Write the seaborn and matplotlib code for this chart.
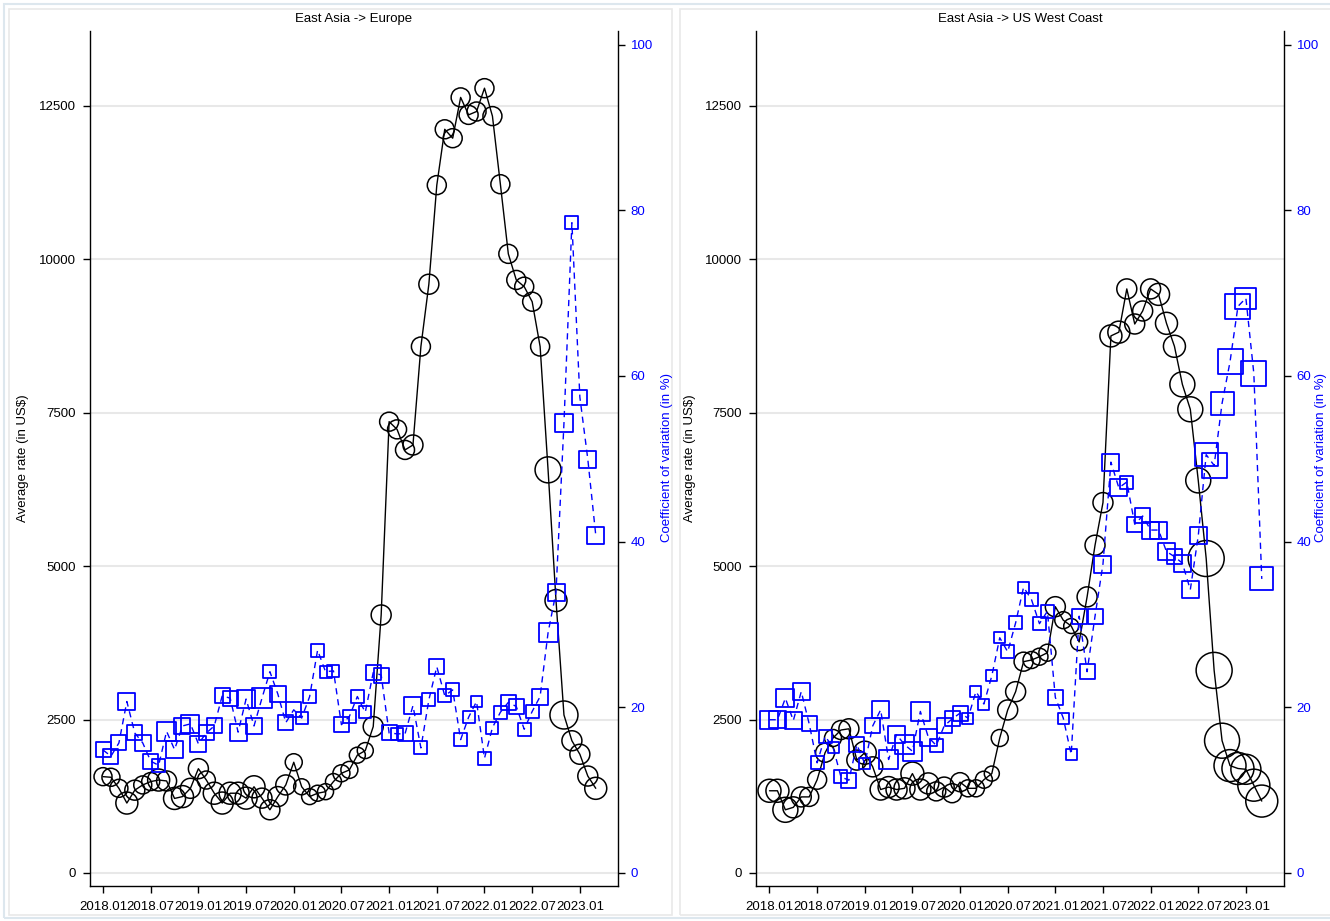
import numpy as np
import pandas as pd
import matplotlib
matplotlib.use("Agg")
import matplotlib.pyplot as plt
from matplotlib.patches import Rectangle
import seaborn as sns

# ---------------- data ----------------
tick_labels = ["2018.01", "2018.07", "2019.01", "2019.07", "2020.01", "2020.07",
               "2021.01", "2021.07", "2022.01", "2022.07", "2023.01"]
months = pd.period_range("2018-01", periods=63, freq="M").strftime("%Y.%m").tolist()

panel_titles = ["East Asia -> Europe", "East Asia -> US West Coast"]

eu_rate = [1570, 1560, 1380, 1140, 1350, 1435, 1490, 1515, 1500, 1215,
           1245, 1380, 1700, 1515, 1300, 1140, 1300, 1300, 1220, 1405,
           1220, 1030, 1245, 1435, 1805, 1405, 1245, 1300, 1325, 1490,
           1625, 1680, 1920, 1995, 2385, 4205, 7355, 7230, 6895, 6975,
           8580, 9595, 11210, 12120, 11975, 12640, 12355, 12410, 12790, 12335,
           11225, 10090, 9665, 9555, 9310, 8580, 6570, 4440, 2575, 2155,
           1935, 1580, 1380]
eu_cv = [14.85, 14.1, 15.7, 20.7, 16.9, 15.7, 13.5, 13.0, 17.1, 14.9,
         17.75, 18.0, 15.6, 16.9, 17.75, 21.4, 21.1, 17.0, 21.0, 17.75,
         21.1, 24.3, 21.6, 18.15, 19.7, 18.7, 21.3, 26.9, 24.3, 24.4,
         17.9, 18.9, 21.3, 19.4, 24.2, 23.9, 16.9, 16.8, 16.8, 20.2,
         15.1, 20.9, 24.9, 21.4, 22.1, 16.1, 18.8, 20.7, 13.85, 17.55,
         19.4, 20.6, 20.1, 17.35, 19.5, 21.3, 29.0, 33.9, 54.3, 78.5,
         57.45, 49.96, 40.8]
# relative weights of the observations (marker size encodes them)
eu_rate_n = [18, 18, 18, 22, 20, 18, 18, 22, 20, 22,
             22, 20, 20, 18, 22, 22, 22, 22, 22, 22,
             20, 20, 20, 20, 17, 16, 16, 16, 16, 16,
             17, 17, 16, 16, 20, 20, 19, 19, 19, 20,
             19, 20, 19, 19, 19, 19, 19, 19, 19, 19,
             19, 19, 19, 19, 19, 19, 26, 22, 28, 20,
             20, 20, 22]
eu_cv_n = [15, 15, 15, 17, 15, 16, 15, 13, 19, 17,
           16, 18, 16, 15, 15, 15, 15, 17, 18, 16,
           20, 13, 16, 15, 15, 12, 13, 13, 12, 12,
           15, 13, 13, 12, 15, 15, 15, 12, 15, 17,
           13, 13, 15, 13, 13, 13, 12, 11, 13, 12,
           13, 15, 15, 13, 13, 16, 19, 17, 18, 13,
           15, 17, 17]

us_rate = [1340, 1340, 1030, 1070, 1240, 1240, 1520, 1960, 2200, 2330,
           2350, 1840, 1960, 1730, 1360, 1400, 1360, 1380, 1620, 1360,
           1460, 1330, 1400, 1300, 1480, 1380, 1380, 1520, 1620, 2200,
           2657, 2955, 3444, 3471, 3525, 3590, 4340, 4120, 4025, 3765,
           4500, 5342, 6036, 8753, 8814, 9519, 8947, 9159, 9519, 9430,
           8958, 8584, 7963, 7557, 6398, 5125, 3302, 2156, 1750, 1703,
           1690, 1431, 1172]
us_cv = [18.5, 18.5, 21.1, 18.4, 21.9, 18.0, 13.3, 16.5, 15.2, 11.6,
         11.2, 15.5, 13.2, 17.75, 19.7, 13.7, 16.7, 15.5, 14.7, 19.5,
         16.4, 15.4, 17.75, 18.6, 19.3, 18.7, 21.9, 20.4, 23.8, 28.4,
         26.7, 30.2, 34.5, 33.0, 30.1, 31.6, 21.2, 18.7, 14.3, 31.0,
         24.3, 31.0, 37.3, 49.6, 46.5, 47.2, 42.1, 43.1, 41.4, 41.4,
         38.8, 38.2, 37.4, 34.2, 40.7, 50.5, 49.2, 56.7, 61.7, 68.4,
         69.4, 60.3, 35.5]
us_rate_n = [23, 23, 25, 21, 20, 19, 19, 19, 17, 19,
             20, 20, 23, 20, 21, 21, 21, 21, 23, 21,
             21, 19, 20, 19, 19, 17, 17, 17, 15, 17,
             20, 20, 19, 17, 17, 17, 20, 17, 15, 17,
             20, 20, 20, 22, 22, 20, 20, 20, 20, 22,
             22, 22, 25, 25, 25, 36, 36, 35, 32, 32,
             30, 32, 32]
us_cv_n = [18, 17, 18, 17, 17, 15, 13, 13, 11, 13,
           15, 15, 11, 15, 17, 19, 17, 19, 19, 19,
           17, 13, 15, 15, 15, 11, 11, 11, 11, 11,
           13, 13, 11, 13, 13, 13, 15, 11, 11, 15,
           15, 15, 17, 17, 17, 13, 15, 15, 17, 17,
           17, 15, 17, 17, 17, 23, 25, 23, 25, 25,
           21, 25, 23]

# ---------------- style ----------------
sns.set_style("white")
plt.rcParams["font.family"] = ["Liberation Sans", "DejaVu Sans"]
FS = 9.5
BLUE = "#0000ff"

W, H = 1330, 921
fig = plt.figure(figsize=(W / 100, H / 100), dpi=100)
fig.patch.set_facecolor("white")

# outer and panel frames (in pixels -> figure fractions)
def frame(x0, y0, x1, y1, color, lw):
    fig.add_artist(Rectangle((x0 / W, 1 - y1 / H), (x1 - x0) / W, (y1 - y0) / H,
                             transform=fig.transFigure, fill=False,
                             edgecolor=color, linewidth=lw, zorder=0))

frame(4, 4, 1345, 918, "#dde7ee", 1.5)
frame(9, 9, 672, 915, "#e9e9e9", 1.2)
frame(680, 9, 1345, 915, "#e9e9e9", 1.2)

YLIM = (-212, 13722)
RATIO = 135.0
NMAX = 40.0
size_kw = dict(sizes=(0, (NMAX * 0.72) ** 2), size_norm=(0, NMAX ** 2), legend=False)

panels = [
    (89.5, 618, eu_rate, eu_cv, eu_rate_n, eu_cv_n, 667),
    (756, 1284, us_rate, us_cv, us_rate_n, us_cv_n, 1321),
]
top_px, bot_px = 31, 886
t = np.arange(len(months))

for k, (xl, xr, rate, cv, rn, cn, rlab_x) in enumerate(panels):
    ax = fig.add_axes([xl / W, 1 - bot_px / H, (xr - xl) / W, (bot_px - top_px) / H])
    ax.set_facecolor("none")
    df = pd.DataFrame({"t": t, "rate": rate, "cv": cv,
                       "rn": np.square(rn), "cn": np.square(cn)})

    sns.lineplot(data=df, x="t", y="rate", ax=ax, color="black", linewidth=1.0,
                 estimator=None, sort=False)
    sns.scatterplot(data=df, x="t", y="rate", size="rn", ax=ax, marker="o",
                    facecolor="none", edgecolor="black", linewidth=1.1, **size_kw)

    ax2 = ax.twinx()
    sns.lineplot(data=df, x="t", y="cv", ax=ax2, color=BLUE, linewidth=1.0,
                 linestyle=(0, (4.5, 3.5)), estimator=None, sort=False)
    sns.scatterplot(data=df, x="t", y="cv", size="cn", ax=ax2, marker="s",
                    facecolor="none", edgecolor=BLUE, linewidth=1.3, **size_kw)

    ax.set_xlim(-1.7, 64.8)
    ax.set_ylim(*YLIM)
    ax2.set_ylim(YLIM[0] / RATIO, YLIM[1] / RATIO)

    ax.set_xticks(np.arange(0, 61, 6))
    ax.set_xticklabels(tick_labels)
    ax.set_yticks(np.arange(0, 12501, 2500))
    ax2.set_yticks(np.arange(0, 101, 20))

    ax.set_xlabel("")
    ax.set_ylabel("")
    ax2.set_ylabel("")

    ax.yaxis.grid(True, color="#e8e8e8", linewidth=1.5)
    ax.xaxis.grid(False)
    ax.set_axisbelow(True)

    ax.tick_params(axis="x", bottom=True, length=5, width=1, color="black",
                   labelsize=FS, labelcolor="black", pad=6)
    ax.tick_params(axis="y", left=True, length=5, width=1, color="black",
                   labelsize=FS, labelcolor="black", pad=5)
    ax2.tick_params(axis="y", right=True, length=5, width=1, color="black",
                    labelsize=FS, labelcolor=BLUE, pad=4)

    for s in ["top", "right"]:
        ax.spines[s].set_visible(False)
    for s in ["left", "bottom"]:
        ax.spines[s].set_color("black")
        ax.spines[s].set_linewidth(1.0)
    for s in ["top", "left", "bottom"]:
        ax2.spines[s].set_visible(False)
    ax2.spines["right"].set_color("black")
    ax2.spines["right"].set_linewidth(1.0)

    xc = (xl + xr) / 2
    fig.text(xc / W, 1 - 19 / H, panel_titles[k], ha="center", va="center",
             fontsize=FS, color="black")
    fig.text((xl - 66) / W, 1 - 458 / H, "Average rate (in US$)", rotation=90,
             ha="center", va="center", fontsize=FS, color="black")
    fig.text(rlab_x / W, 1 - 458 / H, "Coefficient of variation (in %)",
             rotation=90, ha="center", va="center", fontsize=FS, color=BLUE)

fig.savefig("out.png", dpi=100, facecolor="white")
